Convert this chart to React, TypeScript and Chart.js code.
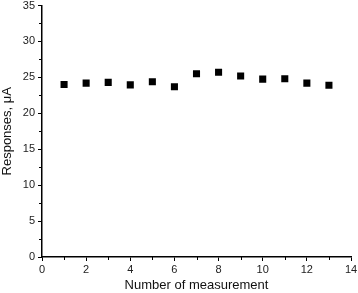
import React, { useEffect, useRef } from "react";
import { Chart, registerables } from "chart.js";

Chart.register(...registerables);

const measurements = [1, 2, 3, 4, 5, 6, 7, 8, 9, 10, 11, 12, 13];
const responses = [24.0, 24.2, 24.3, 23.95, 24.4, 23.7, 25.5, 25.7, 25.2, 24.75, 24.8, 24.2, 23.9];

const xTitle = "Number of measurement";
const yTitle = "Responses, \u03bcA";
const xRange = [0, 14];
const yRange = [0, 35];
const xStep = 2;
const yStep = 5;

const FONT = "'Liberation Sans', Arial, sans-serif";

const minorTicks = {
  id: "minorTicks",
  afterDraw(chart: any) {
    const { ctx } = chart;
    const xs = chart.scales.x;
    const ys = chart.scales.y;
    ctx.save();
    ctx.strokeStyle = "#000";
    ctx.lineWidth = 1;
    ctx.beginPath();
    for (let v = xRange[0] + xStep / 2; v < xRange[1]; v += xStep) {
      const px = Math.round(xs.getPixelForValue(v)) + 0.5;
      const py = ys.getPixelForValue(yRange[0]);
      ctx.moveTo(px, py);
      ctx.lineTo(px, py + 3);
    }
    for (let v = yRange[0] + yStep / 2; v < yRange[1]; v += yStep) {
      const py = Math.round(ys.getPixelForValue(v)) + 0.5;
      const px = xs.getPixelForValue(xRange[0]);
      ctx.moveTo(px, py);
      ctx.lineTo(px - 3, py);
    }
    ctx.stroke();
    ctx.restore();
  },
};

export default function App() {
  const ref = useRef<HTMLCanvasElement>(null);
  useEffect(() => {
    if (!ref.current) return;
    const chart = new Chart(ref.current, {
      type: "scatter",
      data: {
        datasets: [
          {
            data: measurements.map((m, i) => ({ x: m, y: responses[i] })),
            pointStyle: "rect",
            pointRadius: 5,
            pointHoverRadius: 5,
            backgroundColor: "#000",
            borderColor: "#000",
            borderWidth: 0,
            showLine: false,
          },
        ],
      },
      options: {
        animation: false,
        responsive: false,
        maintainAspectRatio: false,
        events: [],
        layout: { padding: { left: 0, top: 5.5, right: 7, bottom: 0 } },
        plugins: { legend: { display: false }, tooltip: { enabled: false } },
        scales: {
          x: {
            type: "linear",
            min: xRange[0],
            max: xRange[1],
            afterFit: (s: any) => {
              s.height = 36;
              s.paddingLeft = 0;
              s.paddingRight = 0;
            },
            ticks: {
              stepSize: xStep,
              padding: 2,
              color: "#222",
              font: { family: FONT, size: 11 },
              maxRotation: 0,
            },
            grid: {
              display: true,
              drawOnChartArea: false,
              drawTicks: true,
              tickLength: 4,
              color: "#000",
              lineWidth: 1,
            },
            border: { display: true, color: "#000", width: 1.5 },
            title: {
              display: true,
              text: xTitle,
              color: "#111",
              font: { family: FONT, size: 13 },
              padding: { top: 0, bottom: 0 },
            },
          },
          y: {
            type: "linear",
            min: yRange[0],
            max: yRange[1],
            afterFit: (s: any) => {
              s.width = 42;
              s.paddingTop = 0;
              s.paddingBottom = 0;
            },
            ticks: {
              stepSize: yStep,
              padding: 3,
              color: "#222",
              font: { family: FONT, size: 11 },
            },
            grid: {
              display: true,
              drawOnChartArea: false,
              drawTicks: true,
              tickLength: 4,
              color: "#000",
              lineWidth: 1,
            },
            border: { display: true, color: "#000", width: 1.5 },
            title: {
              display: true,
              text: yTitle,
              color: "#111",
              font: { family: FONT, size: 13 },
              padding: { top: 0, bottom: 0 },
            },
          },
        },
      },
      plugins: [minorTicks],
    });
    return () => chart.destroy();
  }, []);
  return (
    <div style={{ position: "fixed", left: 0, top: 0, width: 358, height: 293, background: "#fff" }}>
      <canvas ref={ref} width={358} height={293} style={{ display: "block", width: 358, height: 293 }} />
    </div>
  );
}
